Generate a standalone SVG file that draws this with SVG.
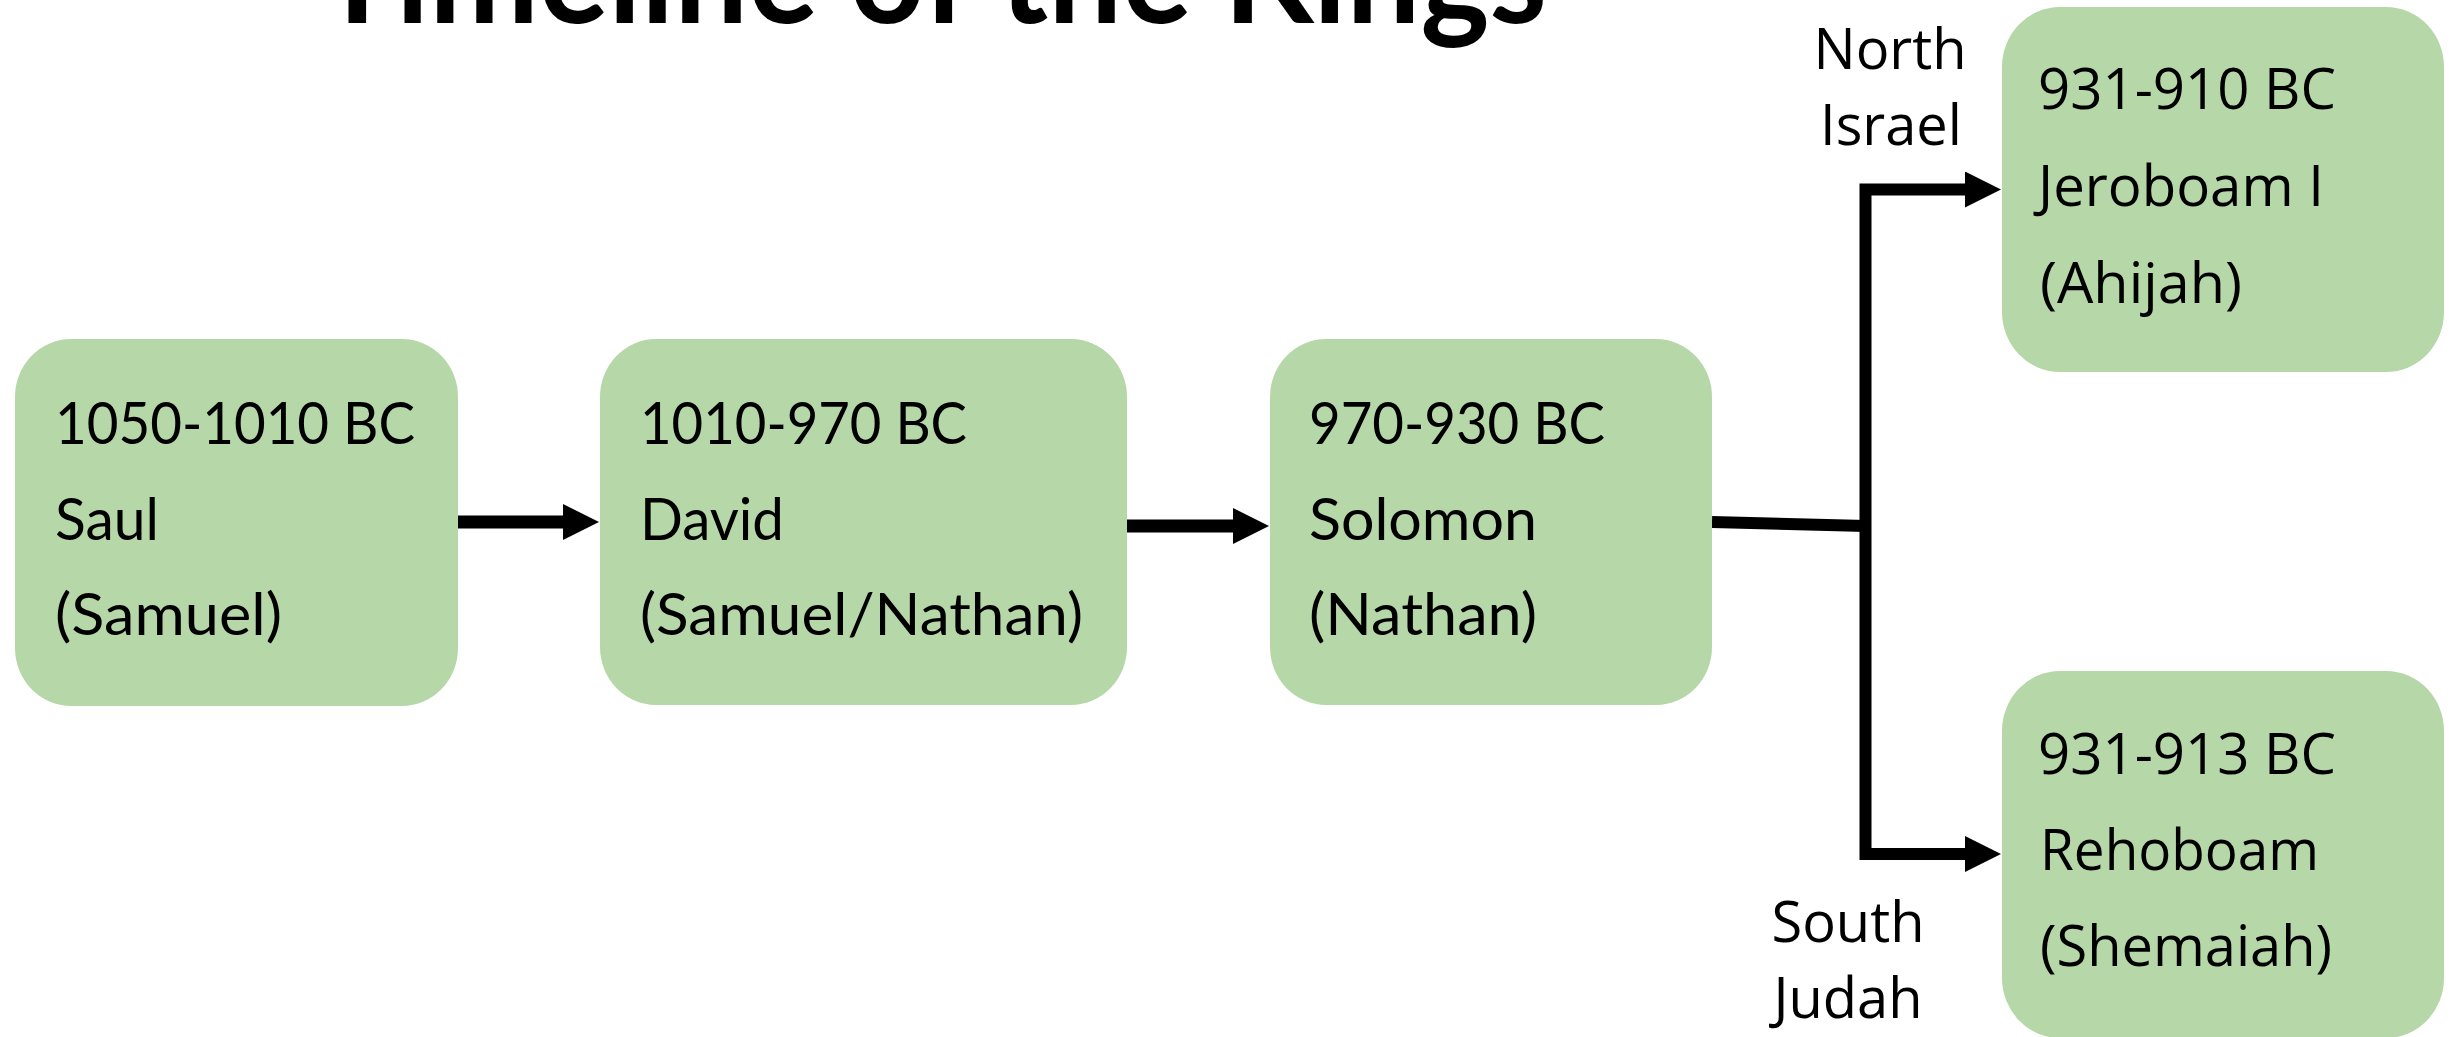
<svg xmlns="http://www.w3.org/2000/svg" width="2458" height="1037" viewBox="0 0 2458 1037">
  <style>
    .node rect { fill: #b6d7a8; }
    .lbl { font-family: Lato, "Liberation Sans", sans-serif; font-size: 58px; fill: #000; }
    .lbl2 { font-family: "Open Sans", "DejaVu Sans", sans-serif; font-size: 56px; fill: #000; }
    .title { font-family: Lato, "Liberation Sans", sans-serif; font-weight: bold; font-size: 140px; fill: #000; }
    .conn { fill: none; stroke: #000; stroke-width: 13; stroke-linejoin: miter; stroke-linecap: butt; }
  </style>
  <defs>
    <marker id="arrow" markerUnits="userSpaceOnUse" viewBox="0 0 36 36" markerWidth="36" markerHeight="36" refX="6" refY="18" orient="auto">
      <path d="M0,0 L36,18 L0,36 Z" fill="#000"/>
    </marker>
  </defs>
  <rect width="2458" height="1037" fill="#fff"/>

  <g id="title">
    <text class="title" x="318" y="23" textLength="1229" lengthAdjust="spacingAndGlyphs">Timeline of the Kings</text>
  </g>

  <g id="connectors">
    <line class="conn" x1="458" y1="522" x2="569" y2="522" marker-end="url(#arrow)"/>
    <line class="conn" x1="1127" y1="526" x2="1239" y2="526" marker-end="url(#arrow)"/>
    <line class="conn" x1="1712" y1="522" x2="1866" y2="526" style="stroke-width:12"/>
    <path class="conn" d="M1865.5,526 V189.5 H1971" style="stroke-width:12" marker-end="url(#arrow)"/>
    <path class="conn" d="M1865.5,526 V854 H1971" style="stroke-width:12" marker-end="url(#arrow)"/>
  </g>

  <g id="label-north">
    <text class="lbl2" x="1890" y="69" text-anchor="middle">North</text>
    <text class="lbl2" x="1891" y="145" text-anchor="middle">Israel</text>
  </g>
  <g id="label-south">
    <text class="lbl2" x="1848" y="942" text-anchor="middle">South</text>
    <text class="lbl2" x="1848" y="1018" text-anchor="middle">Judah</text>
  </g>

  <g id="node-saul" class="node">
    <rect x="15" y="339" width="443" height="367" rx="56" ry="58"/>
    <text class="lbl" x="55" y="444" textLength="360" lengthAdjust="spacingAndGlyphs">1050-1010 BC</text>
    <text class="lbl" x="55" y="540" textLength="104" lengthAdjust="spacingAndGlyphs">Saul</text>
    <text class="lbl" x="55" y="635" textLength="227" lengthAdjust="spacingAndGlyphs">(Samuel)</text>
  </g>

  <g id="node-david" class="node">
    <rect x="600" y="339" width="527" height="366" rx="56" ry="58"/>
    <text class="lbl" x="640" y="444" textLength="327" lengthAdjust="spacingAndGlyphs">1010-970 BC</text>
    <text class="lbl" x="640" y="540" textLength="144" lengthAdjust="spacingAndGlyphs">David</text>
    <text class="lbl" x="640" y="635" textLength="443" lengthAdjust="spacingAndGlyphs">(Samuel/Nathan)</text>
  </g>

  <g id="node-solomon" class="node">
    <rect x="1270" y="339" width="442" height="366" rx="56" ry="58"/>
    <text class="lbl" x="1309" y="444" textLength="296" lengthAdjust="spacingAndGlyphs">970-930 BC</text>
    <text class="lbl" x="1309" y="540" textLength="228" lengthAdjust="spacingAndGlyphs">Solomon</text>
    <text class="lbl" x="1309" y="635" textLength="228" lengthAdjust="spacingAndGlyphs">(Nathan)</text>
  </g>

  <g id="node-jeroboam" class="node">
    <rect x="2002" y="7" width="442" height="365" rx="58" ry="60"/>
    <text class="lbl2" x="2038" y="109" textLength="298" lengthAdjust="spacingAndGlyphs">931-910 BC</text>
    <text class="lbl2" x="2038" y="206" textLength="286" lengthAdjust="spacingAndGlyphs">Jeroboam I</text>
    <text class="lbl2" x="2040" y="303" textLength="202" lengthAdjust="spacingAndGlyphs">(Ahijah)</text>
  </g>

  <g id="node-rehoboam" class="node">
    <rect x="2002" y="671" width="442" height="367" rx="58" ry="60"/>
    <text class="lbl2" x="2038" y="774" textLength="298" lengthAdjust="spacingAndGlyphs">931-913 BC</text>
    <text class="lbl2" x="2040" y="870" textLength="279" lengthAdjust="spacingAndGlyphs">Rehoboam</text>
    <text class="lbl2" x="2040" y="966" textLength="292" lengthAdjust="spacingAndGlyphs">(Shemaiah)</text>
  </g>
</svg>
